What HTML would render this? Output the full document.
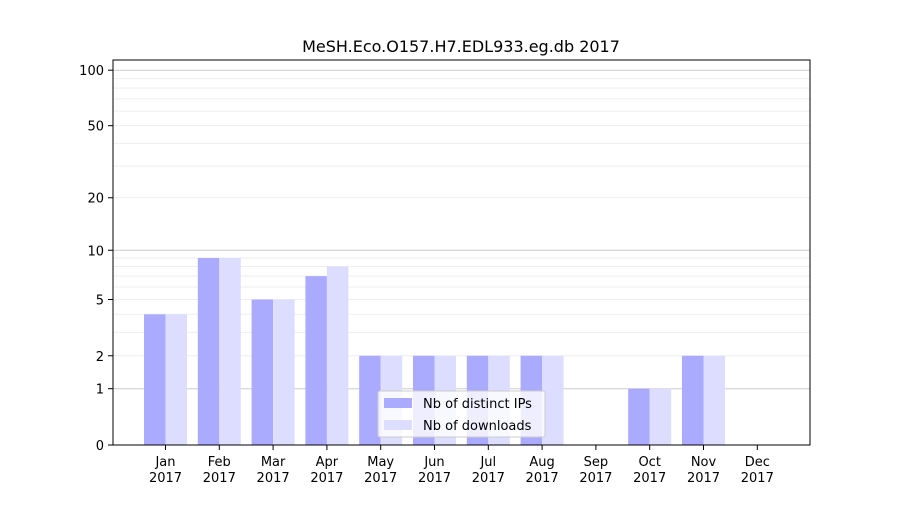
<!DOCTYPE html>
<html><head><meta charset="utf-8"><style>
body{margin:0;background:#fff;font-family:"Liberation Sans","DejaVu Sans",sans-serif}
</style></head><body>
<svg id="chart" width="900" height="500" xmlns="http://www.w3.org/2000/svg" font-family="DejaVu Sans, Liberation Sans, sans-serif">
<rect width="900" height="500" fill="#fff"/>
<text x="461" y="52" font-size="16" text-anchor="middle">MeSH.Eco.O157.H7.EDL933.eg.db 2017</text>
<g id="grid"></g><g id="bars"></g><g id="axes"></g>
<rect x="113" y="60" width="697" height="385" fill="none" stroke="#000" stroke-width="1"/>
<g>
<rect x="378" y="391" width="167" height="46" fill="#fff" fill-opacity="0.8" stroke="#ccc" rx="2"/>
<rect x="384" y="398" width="28" height="10" fill="#aaaaff"/>
<text x="423" y="408" font-size="13">Nb of distinct IPs</text>
<rect x="384" y="420" width="28" height="10" fill="#ddddff"/>
<text x="423" y="430" font-size="13">Nb of downloads</text>
</g>
</svg>
<script>
const months=["Jan","Feb","Mar","Apr","May","Jun","Jul","Aug","Sep","Oct","Nov","Dec"];
const ips=[4,9,5,7,2,2,2,2,0,1,2,0];
const downloads=[4,9,5,8,2,2,2,2,0,1,2,0];
const yTicks=[0,1,2,5,10,20,50,100];
const minorTicks=[3,4,6,7,8,9,30,40,60,70,80,90];
const NS="http://www.w3.org/2000/svg";
function y(v){return 445-187*Math.log10(1+v);}
function x(i){return 165.5+i*53.8;}
function mk(tag,attrs,parent,txt){const e=document.createElementNS(NS,tag);for(const k in attrs)e.setAttribute(k,attrs[k]);if(txt!==undefined)e.textContent=txt;parent.appendChild(e);return e;}
const grid=document.getElementById('grid'),bars=document.getElementById('bars'),axes=document.getElementById('axes');
minorTicks.forEach(v=>{const l=mk('line',{x1:113,x2:810,y1:y(v),y2:y(v),stroke:'#eee','stroke-width':1},grid);

});
yTicks.forEach(v=>{const major=(v===1||v===10||v===100);
const l=mk('line',{x1:113,x2:810,y1:y(v),y2:y(v),stroke:major?'#ccc':'#eee','stroke-width':1},grid);


const t=mk('line',{x1:108,x2:113,y1:y(v),y2:y(v),stroke:'#000'},axes);


const tx=mk('text',{x:104,y:y(v)+5,'font-size':13,'text-anchor':'end'},axes,String(v));

});
months.forEach((m,i)=>{const cx=x(i);
if(ips[i]>0){const r=mk('rect',{x:cx-21.5,y:y(ips[i]),width:21.5,height:445-y(ips[i]),fill:'#aaaaff'},bars);

}
if(downloads[i]>0){const r=mk('rect',{x:cx,y:y(downloads[i]),width:21.5,height:445-y(downloads[i]),fill:'#ddddff'},bars);

}
const t=mk('line',{x1:cx,x2:cx,y1:445,y2:450,stroke:'#000'},axes);


const a=mk('text',{x:cx,y:466,'font-size':13,'text-anchor':'middle'},axes,m);


const b=mk('text',{x:cx,y:482,'font-size':13,'text-anchor':'middle'},axes,'2017');

});
</script>
</body></html>
